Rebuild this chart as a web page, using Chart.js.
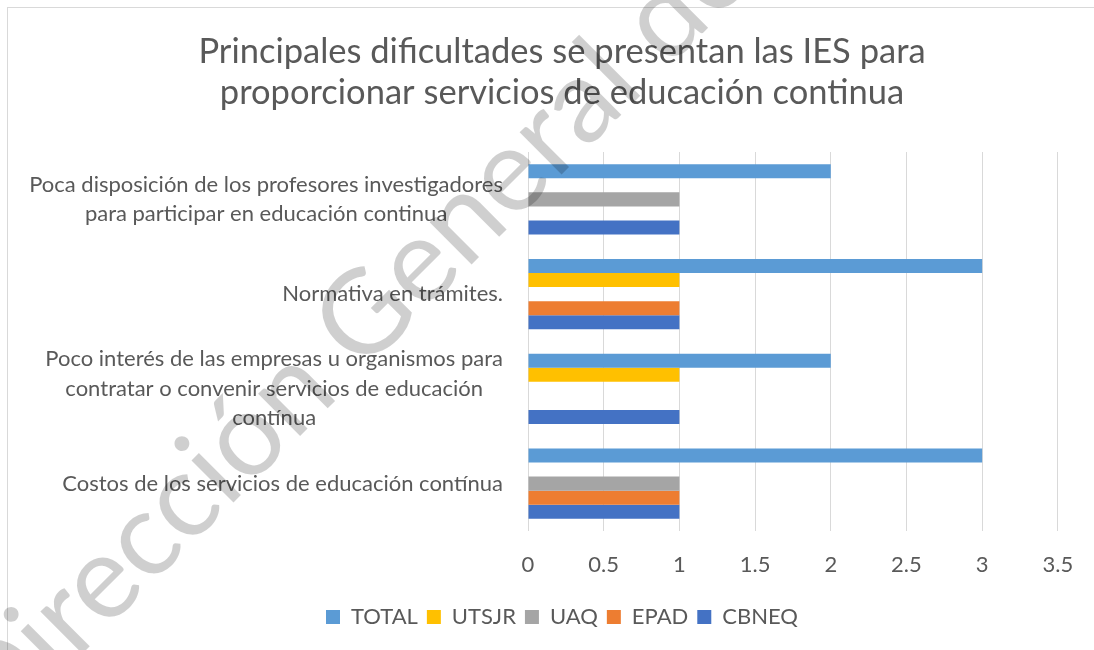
<!DOCTYPE html>
<html lang="es">
<head>
<meta charset="utf-8">
<title>Principales dificultades</title>
<script src="https://cdn.jsdelivr.net/npm/chart.js@4.4.1/dist/chart.umd.min.js"></script>
<style>
    html, body { margin: 0; padding: 0; background: #ffffff; }
    #contenedor { position: relative; width: 1094px; height: 650px; overflow: hidden; }
    #marco { position: absolute; left: 7px; top: 7px; width: 1200px; height: 800px;
             border-top: 1px solid #d9d9d9; border-left: 1px solid #d9d9d9; }
    #grafico { position: absolute; left: 0; top: 0; }
</style>
</head>
<body>
<div id="contenedor">
    <div id="marco"></div>
    <canvas id="grafico" width="1094" height="650"></canvas>
</div>
<script>
// Datos del grafico
const titulo = ['Principales dificultades se presentan las IES para', 'proporcionar servicios de educación continua'];
const categorias = [
    ['Poca disposición de los profesores investigadores', 'para participar en educación continua'],
    ['Normativa en trámites.'],
    ['Poco interés de las empresas u organismos para', 'contratar o convenir servicios de educación', 'contínua'],
    ['Costos de los servicios de educación contínua']
];
const series = ['TOTAL', 'UTSJR', 'UAQ', 'EPAD', 'CBNEQ'];
const valoresTotal = [2, 3, 2, 3];
const valoresUtsjr = [0, 1, 1, 0];
const valoresUaq = [1, 0, 0, 1];
const valoresEpad = [0, 1, 0, 1];
const valoresCbneq = [1, 1, 1, 1];
const colores = ['#5B9BD5', '#FFC000', '#A5A5A5', '#ED7D31', '#4472C4'];
const marcaAgua = 'Dirección General de';

const FUENTE = 'Lato, "Open Sans", sans-serif';
const GRIS_TEXTO = '#595959';
const TAM_TEXTO = 22;

// Etiquetas del eje Y: bloque alineado a la derecha, lineas centradas entre si
const etiquetasY = {
    id: 'etiquetasY',
    afterDraw(chart) {
        const ctx = chart.ctx;
        const escala = chart.scales.y;
        ctx.save();
        ctx.font = TAM_TEXTO + 'px ' + FUENTE;
        ctx.fillStyle = GRIS_TEXTO;
        ctx.textAlign = 'center';
        ctx.textBaseline = 'middle';
        categorias.forEach((lineas, i) => {
            const yc = escala.getPixelForTick(i);
            const ancho = Math.max(...lineas.map(l => ctx.measureText(l).width));
            const xc = chart.chartArea.left - 25 - ancho / 2;
            lineas.forEach((l, j) => {
                ctx.fillText(l, xc, yc + (j - (lineas.length - 1) / 2) * 29.5);
            });
        });
        ctx.restore();
    }
};

// Marca de agua diagonal
const marcaDeAgua = {
    id: 'marcaDeAgua',
    afterDraw(chart) {
        const ctx = chart.ctx;
        ctx.save();
        ctx.font = '100px ' + FUENTE;
        const tam = 100 * 1080 / ctx.measureText(marcaAgua).width;
        ctx.font = tam + 'px ' + FUENTE;
        ctx.translate(376, 360);
        ctx.rotate(-Math.PI / 4);
        ctx.fillStyle = 'rgba(0, 0, 0, 0.19)';
        ctx.textAlign = 'center';
        ctx.textBaseline = 'alphabetic';
        ctx.fillText(marcaAgua, 0, 0);
        ctx.restore();
    }
};

const valores = [valoresTotal, valoresUtsjr, valoresUaq, valoresEpad, valoresCbneq];

new Chart(document.getElementById('grafico'), {
    type: 'bar',
    data: {
        labels: categorias,
        datasets: series.map((nombre, i) => ({
            label: nombre,
            data: valores[i],
            backgroundColor: colores[i],
            borderWidth: 0,
            categoryPercentage: 0.74,
            barPercentage: 1
        }))
    },
    options: {
        indexAxis: 'y',
        responsive: false,
        animation: false,
        locale: 'en-US',
        layout: { padding: { left: 62, right: 32, top: 0, bottom: 12 } },
        plugins: {
            title: {
                display: true,
                text: titulo,
                color: GRIS_TEXTO,
                font: { family: FUENTE, size: 34.5, weight: 'normal', lineHeight: 41 / 34.5 },
                padding: { top: 31, bottom: 39 }
            },
            legend: {
                position: 'bottom',
                labels: {
                    color: GRIS_TEXTO,
                    font: { family: FUENTE, size: TAM_TEXTO },
                    boxWidth: 14,
                    boxHeight: 14,
                    padding: 9
                }
            },
            tooltip: { enabled: false }
        },
        scales: {
            x: {
                min: 0,
                max: 3.5,
                ticks: {
                    stepSize: 0.5,
                    color: GRIS_TEXTO,
                    font: { family: FUENTE, size: TAM_TEXTO },
                    padding: 20.8,
                    callback: (valor) => String(valor)
                },
                grid: { color: '#d9d9d9', lineWidth: 1, drawTicks: false },
                border: { display: false },
                afterFit(escala) { escala.height = 66; }
            },
            y: {
                ticks: { display: false },
                grid: { display: false },
                border: { display: false },
                afterFit(escala) { escala.width = 466; }
            }
        }
    },
    plugins: [etiquetasY, marcaDeAgua]
});
</script>
</body>
</html>
